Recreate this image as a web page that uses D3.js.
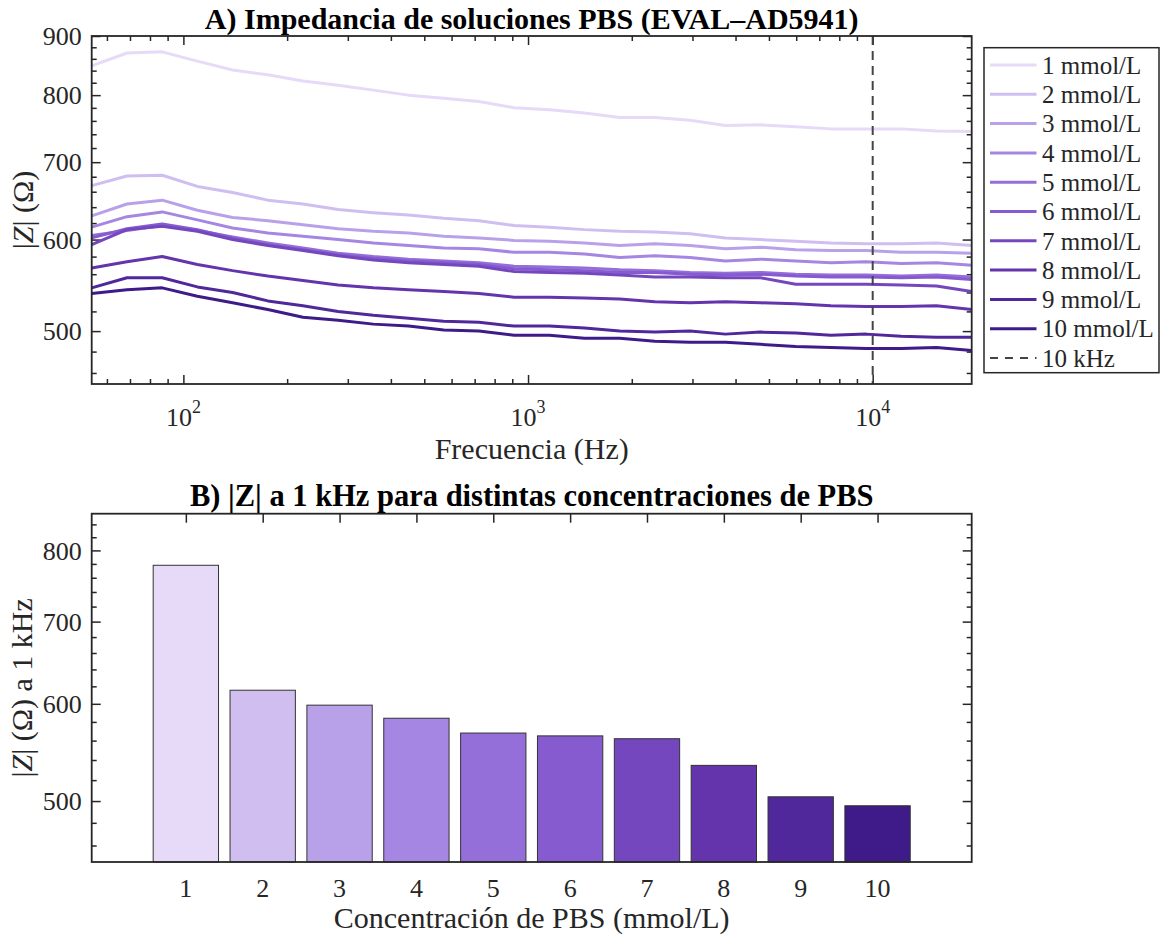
<!DOCTYPE html>
<html>
<head>
<meta charset="utf-8">
<script src="https://cdn.jsdelivr.net/npm/d3@7"></script>
<style>
  body { margin: 0; background: #fff; }
  svg { display: block; font-family: "Liberation Serif", "Times New Roman", serif; }
</style>
</head>
<body>
<svg id="chart" width="1160" height="937"></svg>
<script>
// frequencies of the sweep (Hz)
const freqHz = [54.2, 68.6, 86.8, 109.8, 138.9, 175.8, 222.3, 281.2, 355.8, 450.1, 569.4, 720.4, 911.2,
  1153, 1458, 1845, 2334, 2953, 3736, 4726, 5979, 7565, 9570, 12106, 15316, 19376];

// |Z| (ohm) per concentration
const z1 = [848, 870, 872, 856, 841, 833, 823, 816, 808, 800, 795, 790, 780, 777, 772, 765, 765, 761, 753, 754, 751, 748, 748, 748, 745, 744];
const z2 = [668, 681, 682, 667, 659, 649, 644, 637, 633, 630, 626, 623, 617, 615, 612, 610, 609, 607, 602, 600, 598, 596, 595, 595, 596, 593];
const z3 = [629, 644, 649, 636, 627, 623, 618, 613, 610, 608, 604, 602, 599, 598, 596, 593, 595, 593, 589, 591, 588, 587, 587, 585, 585, 584];
const z4 = [615, 628, 634, 624, 614, 608, 604, 600, 596, 593, 590, 589, 585, 585, 583, 579, 581, 579, 575, 577, 575, 573, 574, 572, 573, 570];
const z5 = [605, 611, 617, 611, 603, 596, 590, 584, 580, 577, 575, 573, 569, 568, 567, 565, 564, 562, 561, 562, 560, 559, 559, 558, 559, 557];
const z6 = [602, 613, 619, 612, 602, 594, 588, 582, 578, 575, 573, 571, 566, 565, 564, 562, 562, 560, 559, 560, 558, 557, 557, 556, 557, 554];
const z7 = [594, 612, 616, 610, 600, 593, 587, 581, 576, 573, 571, 569, 563, 562, 561, 559, 557, 557, 556, 556, 549, 549, 549, 548, 547, 541];
const z8 = [567, 574, 580, 571, 564, 558, 553, 548, 545, 543, 541, 539, 535, 535, 534, 533, 530, 529, 530, 529, 528, 526, 525, 525, 526, 522];
const z9 = [545, 556, 556, 546, 540, 531, 526, 520, 516, 513, 510, 509, 505, 505, 503, 500, 499, 500, 497, 499, 498, 496, 497, 495, 494, 494];
const z10 = [539, 543, 545, 536, 529, 522, 514, 511, 507, 505, 501, 500, 496, 496, 493, 493, 490, 489, 489, 487, 485, 484, 483, 483, 484, 481];

const series = [z1, z2, z3, z4, z5, z6, z7, z8, z9, z10];
const seriesLabels = ['1 mmol/L', '2 mmol/L', '3 mmol/L', '4 mmol/L', '5 mmol/L',
  '6 mmol/L', '7 mmol/L', '8 mmol/L', '9 mmol/L', '10 mmol/L'];
const colors = ['#e6daf8', '#d0bef0', '#b9a1ea', '#a686e3', '#946fda',
  '#855bcf', '#7547bf', '#6434ad', '#50289b', '#3f1a89'];
const markerHz = 10000;

// panel B: |Z| at 1 kHz
const concentrations = [1, 2, 3, 4, 5, 6, 7, 8, 9, 10];
const z1k = [778, 615.5, 598.5, 584, 568, 565, 562, 534.6, 504, 495.6];

const yTicksA = [500, 600, 700, 800, 900];
const xTicksA = [100, 1000, 10000];
const xTickExpA = ['2', '3', '4'];
const yTicksB = [500, 600, 700, 800];

const ink = '#262626';
const svg = d3.select('#chart');

const left = 91.7, right = 971.7;
const boxA = { top: 36, bottom: 384 };
const boxB = { top: 513.7, bottom: 862 };

// ---------- panel A ----------
const x = d3.scaleLog().domain([54.2, 19376]).range([left, right]);
const y = d3.scaleLog().domain([450, 900]).range([boxA.bottom, boxA.top]);

const gA = svg.append('g');

const yMinorA = d3.range(460, 900, 20).filter(v => !yTicksA.includes(v));
const xMinorA = [];
[10, 100, 1000, 10000].forEach(d => {
  for (let k = 2; k <= 9; k++) {
    const v = d * k;
    if (v > x.domain()[0] && v < x.domain()[1]) xMinorA.push(v);
  }
});

function drawTicks(g, axisFn, scale, values, size, tx, ty) {
  g.append('g')
    .attr('transform', `translate(${tx},${ty})`)
    .call(axisFn(scale).tickValues(values).tickSize(-size).tickFormat(''))
    .call(s => s.select('.domain').remove())
    .call(s => s.selectAll('line').attr('stroke', ink).attr('stroke-width', 1.5));
}

drawTicks(gA, d3.axisLeft, y, yTicksA, 9, left, 0);
drawTicks(gA, d3.axisLeft, y, yMinorA, 5, left, 0);
drawTicks(gA, d3.axisRight, y, yTicksA, 9, right, 0);
drawTicks(gA, d3.axisRight, y, yMinorA, 5, right, 0);
drawTicks(gA, d3.axisBottom, x, xTicksA, 9, 0, boxA.bottom);
drawTicks(gA, d3.axisBottom, x, xMinorA, 5, 0, boxA.bottom);
drawTicks(gA, d3.axisTop, x, xTicksA, 9, 0, boxA.top);
drawTicks(gA, d3.axisTop, x, xMinorA, 5, 0, boxA.top);

gA.selectAll('.ylab')
  .data(yTicksA)
  .enter()
  .append('text')
  .attr('x', left - 10)
  .attr('y', d => y(d))
  .attr('dy', '0.35em')
  .attr('text-anchor', 'end')
  .attr('font-size', 26)
  .attr('fill', ink)
  .text(d => d);

const xl = gA.selectAll('.xlab')
  .data(xTicksA)
  .enter()
  .append('text')
  .attr('x', d => x(d))
  .attr('y', 426)
  .attr('text-anchor', 'middle')
  .attr('font-size', 26)
  .attr('fill', ink);
xl.append('tspan').text('10');
xl.append('tspan').attr('font-size', 18).attr('dy', -13).text((d, i) => xTickExpA[i]);

svg.append('clipPath').attr('id', 'clipA')
  .append('rect').attr('x', left).attr('y', boxA.top)
  .attr('width', right - left).attr('height', boxA.bottom - boxA.top);

const line = d3.line()
  .x((d, i) => x(freqHz[i]))
  .y(d => y(d));

gA.append('g')
  .attr('clip-path', 'url(#clipA)')
  .selectAll('path')
  .data(series)
  .enter()
  .append('path')
  .attr('d', line)
  .attr('fill', 'none')
  .attr('stroke', (d, i) => colors[i])
  .attr('stroke-width', 3)
  .attr('stroke-linejoin', 'round');

gA.append('line')
  .attr('x1', x(markerHz)).attr('x2', x(markerHz))
  .attr('y1', boxA.top).attr('y2', boxA.bottom)
  .attr('stroke', '#444')
  .attr('stroke-width', 2)
  .attr('stroke-dasharray', '9,6');

gA.append('rect')
  .attr('x', left).attr('y', boxA.top)
  .attr('width', right - left).attr('height', boxA.bottom - boxA.top)
  .attr('fill', 'none').attr('stroke', ink).attr('stroke-width', 1.8);

gA.append('text')
  .attr('x', (left + right) / 2).attr('y', 29)
  .attr('text-anchor', 'middle')
  .attr('font-size', 30).attr('font-weight', 'bold').attr('fill', '#000')
  .text('A) Impedancia de soluciones PBS (EVAL\u2013AD5941)');

gA.append('text')
  .attr('x', (left + right) / 2).attr('y', 459)
  .attr('text-anchor', 'middle')
  .attr('font-size', 30).attr('fill', ink)
  .text('Frecuencia (Hz)');

const yLabA = gA.append('text')
  .attr('transform', `translate(33,${(boxA.top + boxA.bottom) / 2}) rotate(-90)`)
  .attr('text-anchor', 'middle')
  .attr('font-size', 30).attr('fill', ink);
yLabA.append('tspan').text('|');
yLabA.append('tspan').attr('font-style', 'italic').text('Z');
yLabA.append('tspan').text('| (\u03A9)');

// legend
const legend = gA.append('g');
legend.append('rect')
  .attr('x', 984).attr('y', 47.7).attr('width', 175).attr('height', 325)
  .attr('fill', '#fff').attr('stroke', ink).attr('stroke-width', 1.5);

const legendItems = seriesLabels.concat(['10 kHz']);
const entry = legend.selectAll('.entry')
  .data(legendItems)
  .enter()
  .append('g')
  .attr('transform', (d, i) => `translate(0,${65 + i * 29.3})`);

entry.append('line')
  .attr('x1', 990).attr('x2', 1036.5)
  .attr('stroke', (d, i) => i < colors.length ? colors[i] : '#444')
  .attr('stroke-width', (d, i) => i < colors.length ? 3 : 2)
  .attr('stroke-dasharray', (d, i) => i < colors.length ? null : '8,7');

entry.append('text')
  .attr('x', 1042).attr('dy', '0.35em')
  .attr('font-size', 25).attr('fill', ink)
  .text(d => d);

// ---------- panel B ----------
const xb = d3.scaleLinear().domain([-0.225, 11.225]).range([left, right]);
const yb = d3.scaleLog().domain([446, 857]).range([boxB.bottom, boxB.top]);
const barW = 0.85;

const gB = svg.append('g');
const yMinorB = d3.range(460, 857, 20).filter(v => !yTicksB.includes(v));

drawTicks(gB, d3.axisLeft, yb, yTicksB, 9, left, 0);
drawTicks(gB, d3.axisLeft, yb, yMinorB, 5, left, 0);
drawTicks(gB, d3.axisRight, yb, yTicksB, 9, right, 0);
drawTicks(gB, d3.axisRight, yb, yMinorB, 5, right, 0);
drawTicks(gB, d3.axisBottom, xb, concentrations, 9, 0, boxB.bottom);
drawTicks(gB, d3.axisTop, xb, concentrations, 9, 0, boxB.top);

gB.selectAll('.bar')
  .data(z1k)
  .enter()
  .append('rect')
  .attr('x', (d, i) => xb(concentrations[i] - barW / 2))
  .attr('width', (d, i) => xb(concentrations[i] + barW / 2) - xb(concentrations[i] - barW / 2))
  .attr('y', d => yb(d))
  .attr('height', d => boxB.bottom - yb(d))
  .attr('fill', (d, i) => colors[i])
  .attr('stroke', '#333')
  .attr('stroke-width', 1);

gB.selectAll('.ylab')
  .data(yTicksB)
  .enter()
  .append('text')
  .attr('x', left - 10)
  .attr('y', d => yb(d))
  .attr('dy', '0.35em')
  .attr('text-anchor', 'end')
  .attr('font-size', 26)
  .attr('fill', ink)
  .text(d => d);

gB.selectAll('.xlab')
  .data(concentrations)
  .enter()
  .append('text')
  .attr('x', d => xb(d))
  .attr('y', 897)
  .attr('text-anchor', 'middle')
  .attr('font-size', 26)
  .attr('fill', ink)
  .text(d => d);

gB.append('rect')
  .attr('x', left).attr('y', boxB.top)
  .attr('width', right - left).attr('height', boxB.bottom - boxB.top)
  .attr('fill', 'none').attr('stroke', ink).attr('stroke-width', 1.8);

gB.append('text')
  .attr('x', (left + right) / 2).attr('y', 506)
  .attr('text-anchor', 'middle')
  .attr('font-size', 30.5).attr('font-weight', 'bold').attr('fill', '#000')
  .text('B) |Z| a 1 kHz para distintas concentraciones de PBS');

gB.append('text')
  .attr('x', (left + right) / 2).attr('y', 928)
  .attr('text-anchor', 'middle')
  .attr('font-size', 30).attr('fill', ink)
  .text('Concentración de PBS (mmol/L)');

const yLabB = gB.append('text')
  .attr('transform', `translate(32,${(boxB.top + boxB.bottom) / 2}) rotate(-90)`)
  .attr('text-anchor', 'middle')
  .attr('font-size', 30).attr('fill', ink);
yLabB.append('tspan').text('|');
yLabB.append('tspan').attr('font-style', 'italic').text('Z');
yLabB.append('tspan').text('| (\u03A9) a 1 kHz');
</script>
</body>
</html>
